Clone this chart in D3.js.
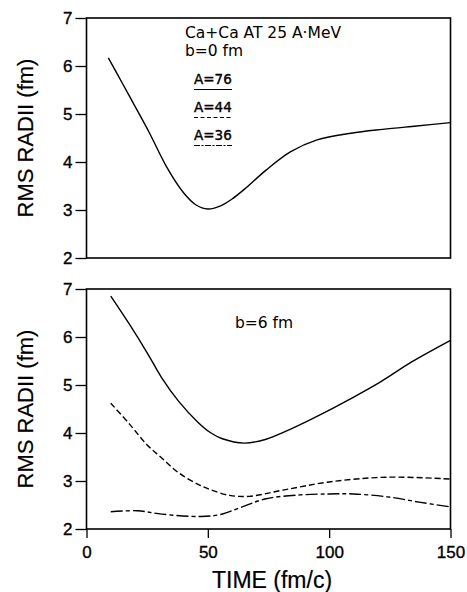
<!DOCTYPE html>
<html>
<head>
<meta charset="utf-8">
<script src="https://cdn.jsdelivr.net/npm/d3@7"></script>
<style>
  body { margin: 0; background: #fff; }
  .tick text { font-family: "Liberation Sans", sans-serif; font-size: 17px; fill: #000; stroke: #000; stroke-width: 0.35; }
  .tick line { stroke: #000; stroke-width: 1.3; }
  .axisTitle { font-family: "Liberation Sans", sans-serif; fill: #000; stroke: #000; stroke-width: 0.2; }
  .note { font-family: "DejaVu Sans", sans-serif; font-size: 15.5px; fill: #000; }
  .legendText { font-family: "DejaVu Sans", sans-serif; font-size: 13.5px; fill: #000; stroke: #000; stroke-width: 0.4; }
</style>
</head>
<body>
<div id="chart"></div>
<script>
var rms = rms || {'viz': {}};

// ---- data ----

// top panel, b=0 fm (only A=76 is drawn)
var timeTop = [9, 15, 20, 26, 33, 40, 45, 50, 55, 60, 65, 74, 84, 95, 109, 122, 136, 150];
var radiiTopA76 = [6.17, 5.62, 5.16, 4.60, 3.90, 3.36, 3.11, 3.02, 3.08, 3.23, 3.43, 3.83, 4.21, 4.46, 4.60, 4.68, 4.75, 4.82];

// bottom panel, b=6 fm
var timeA76 = [10, 18, 25, 31, 38, 46, 51, 56, 65, 74, 85, 96, 108, 121, 134, 150];
var radiiA76 = [6.85, 6.24, 5.67, 5.15, 4.66, 4.22, 4.01, 3.88, 3.79, 3.87, 4.10, 4.37, 4.69, 5.06, 5.48, 5.93];

var timeA44 = [10, 18, 25, 31, 38, 46, 51, 59, 67, 81, 100, 124, 150];
var radiiA44 = [4.62, 4.17, 3.75, 3.48, 3.17, 2.93, 2.82, 2.70, 2.68, 2.81, 2.98, 3.08, 3.04];

var timeA36 = [10, 21, 31, 47, 55, 63, 74, 88, 100, 110, 124, 137, 150];
var radiiA36 = [2.36, 2.38, 2.31, 2.26, 2.30, 2.44, 2.63, 2.71, 2.73, 2.73, 2.67, 2.56, 2.46];

var legendLabels = ["A=76", "A=44", "A=36"];
var yTicks = [2, 3, 4, 5, 6, 7];
var xTicks = [0, 50, 100, 150];
var xTitle = "TIME (fm/c)";
var yTitle = "RMS RADII (fm)";
var topNote = ["Ca+Ca AT 25 A\u00b7MeV", "b=0 fm"];
var bottomNote = "b=6 fm";

var dashes = ["none", "6,3", "12,3,4,3"];

rms.viz.panels = function(options)
{
    var self = {};
    for (var key in options){
        self[key] = options[key];
    }

    self.init = function(){
        self.svg = d3.select(self.parent_select).append("svg")
            .attr("width", self.width)
            .attr("height", self.height);

        self.x = d3.scaleLinear().domain([0, 150]).range([86.5, 450.5]);
        self.yTop = d3.scaleLinear().domain([2, 7]).range([258, 18]);
        self.yBot = d3.scaleLinear().domain([2, 7]).range([529, 289]);
    };

    self.panel = function(y, showX){
        var g = self.svg.append("g");

        // y axis, ticks outward
        g.append("g")
            .attr("transform", "translate(" + self.x.range()[0] + ",0)")
            .call(d3.axisLeft(y).tickValues(yTicks).tickSize(11).tickPadding(3).tickFormat(d3.format("d")))
            .call(function(a){ a.select(".domain").remove(); });

        if (showX){
            g.append("g")
                .attr("transform", "translate(0," + y.range()[0] + ")")
                .call(d3.axisBottom(self.x).tickValues(xTicks).tickSize(9).tickPadding(8))
                .call(function(a){ a.select(".domain").remove(); });
        }

        // frame
        g.append("rect")
            .attr("x", self.x.range()[0])
            .attr("y", y.range()[1])
            .attr("width", self.x.range()[1] - self.x.range()[0])
            .attr("height", y.range()[0] - y.range()[1])
            .attr("fill", "none")
            .attr("stroke", "#000")
            .attr("stroke-width", 1.6);

        // y title
        g.append("text")
            .attr("class", "axisTitle")
            .attr("transform", "translate(33," + (y.range()[0] + y.range()[1]) / 2 + ") rotate(-90)")
            .attr("text-anchor", "middle")
            .style("font-size", "22px")
            .text(yTitle);

        return g;
    };

    self.curve = function(g, y, xs, ys, dash){
        var line = d3.line()
            .x(function(d){ return self.x(d[0]); })
            .y(function(d){ return y(d[1]); })
            .curve(d3.curveCatmullRom.alpha(0.5));
        g.append("path")
            .datum(d3.zip(xs, ys))
            .attr("d", line)
            .attr("fill", "none")
            .attr("stroke", "#000")
            .attr("stroke-width", 1.4)
            .attr("stroke-dasharray", dash);
    };

    self.render = function(){
        // top panel
        var top = self.panel(self.yTop, false);
        self.curve(top, self.yTop, timeTop, radiiTopA76, dashes[0]);

        top.selectAll(".note").data(topNote).enter().append("text")
            .attr("class", "note")
            .attr("x", 185)
            .attr("y", function(d, i){ return 38 + i * 18; })
            .text(function(d){ return d; });

        // legend: label with its line style underneath
        var leg = top.selectAll(".leg").data(legendLabels).enter().append("g")
            .attr("transform", function(d, i){ return "translate(194," + (84 + i * 28) + ")"; });
        leg.append("text")
            .attr("class", "legendText")
            .text(function(d){ return d; });
        leg.append("line")
            .attr("x1", 0).attr("x2", 38)
            .attr("y1", 5.5).attr("y2", 5.5)
            .attr("stroke", "#000")
            .attr("stroke-width", 1)
            .attr("stroke-dasharray", function(d, i){ return i == 0 ? "none" : (i == 1 ? "4,2.5" : "6,1.5,2,1.5"); });

        // bottom panel
        var bot = self.panel(self.yBot, true);
        self.curve(bot, self.yBot, timeA76, radiiA76, dashes[0]);
        self.curve(bot, self.yBot, timeA44, radiiA44, dashes[1]);
        self.curve(bot, self.yBot, timeA36, radiiA36, dashes[2]);

        bot.append("text")
            .attr("class", "note")
            .attr("x", 235)
            .attr("y", 328)
            .text(bottomNote);

        self.svg.append("text")
            .attr("class", "axisTitle")
            .attr("x", 272)
            .attr("y", 588)
            .attr("text-anchor", "middle")
            .style("font-size", "23px")
            .text(xTitle);
    };

    self.init();
    return self;
};

var chart = rms.viz.panels({parent_select: "#chart", width: 467, height: 592});
chart.render();
</script>
</body>
</html>
